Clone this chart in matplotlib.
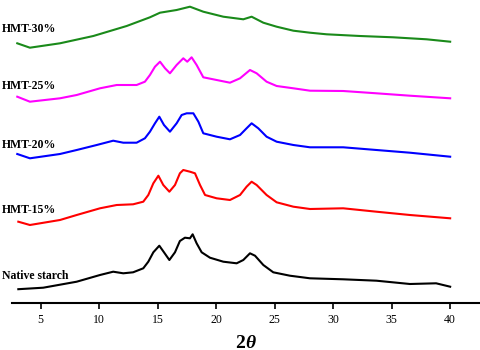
import matplotlib
matplotlib.use("Agg")
import matplotlib.pyplot as plt

# 2theta positions and intensities (arbitrary units, stacked)
x_native = [3.09, 5.22, 8.08, 10.07, 11.2, 12.06, 12.9, 13.77, 14.2, 14.63, 15.14, 15.54, 16.0, 16.48,
            16.9, 17.33, 17.76, 17.99, 18.33, 18.76, 19.47, 20.61, 21.75, 22.32, 22.89, 23.32, 24.03,
            24.88, 26.3, 28.02, 30.86, 33.7, 36.56, 38.8, 40.0]
y_native = [13.5, 15.0, 21.0, 27.7, 31.0, 29.4, 30.4, 34.4, 41.0, 50.4, 57.0, 50.4, 42.7, 50.4,
            61.7, 65.0, 64.4, 68.4, 59.4, 50.4, 45.0, 41.0, 39.4, 42.7, 49.4, 47.0, 37.7,
            30.4, 27.0, 24.4, 23.4, 22.0, 18.7, 19.4, 16.0]

x_15 = [3.09, 4.08, 6.65, 8.08, 10.07, 11.5, 12.9, 13.77, 14.2, 14.63, 15.06, 15.48, 16.0, 16.48, 16.9,
        17.19, 17.76, 18.19, 18.62, 19.05, 20.04, 21.18, 22.04, 22.6, 23.03, 23.46, 24.31, 25.17, 26.6,
        28.02, 30.86, 33.7, 36.56, 40.0]
y_15 = [81.0, 77.7, 82.7, 87.7, 94.4, 97.7, 98.4, 101.0, 107.7, 119.4, 127.0, 117.7, 111.0, 117.7, 129.4,
        132.7, 131.0, 129.4, 117.7, 107.7, 104.4, 102.7, 107.7, 116.0, 121.0, 117.7, 107.7, 100.4, 96.0,
        93.7, 94.4, 91.0, 87.7, 84.4]

x_20 = [3.0, 4.08, 6.65, 8.08, 9.79, 11.2, 12.06, 13.2, 13.91, 14.34, 14.77, 15.14, 15.54, 16.05, 16.62,
        17.05, 17.48, 18.05, 18.48, 18.9, 20.04, 21.18, 22.04, 22.6, 23.03, 23.6, 24.31, 25.17, 26.6,
        28.02, 30.86, 33.7, 36.56, 40.0]
y_20 = [148.7, 144.4, 148.7, 152.7, 157.7, 162.0, 160.0, 160.0, 164.4, 171.0, 179.4, 186.0, 177.7, 171.0, 179.4,
        187.7, 189.4, 189.4, 181.0, 169.4, 166.0, 163.4, 167.7, 174.4, 179.4, 174.4, 166.0, 161.0, 157.7,
        155.4, 155.4, 152.7, 150.0, 146.0]

x_25 = [3.0, 4.08, 6.65, 8.08, 10.07, 11.5, 13.2, 13.91, 14.34, 14.77, 15.2, 15.63, 16.05, 16.62, 17.19,
        17.53, 17.9, 18.33, 18.9, 20.04, 21.18, 22.04, 22.89, 23.46, 24.31, 25.17, 26.6, 28.02,
        30.86, 33.7, 36.56, 40.0]
y_25 = [206.0, 201.0, 204.4, 207.7, 214.4, 217.7, 217.7, 221.0, 227.7, 236.0, 241.0, 234.4, 229.4, 237.7, 244.4,
        241.0, 245.4, 237.7, 225.4, 222.7, 220.0, 224.4, 232.7, 229.4, 221.0, 216.7, 214.4, 212.0,
        211.7, 209.4, 207.0, 204.4]

x_30 = [3.0, 4.08, 6.65, 9.5, 12.35, 14.34, 15.2, 16.62, 17.76, 18.9, 20.61, 22.32, 23.03, 24.03, 25.17,
        26.6, 28.02, 29.44, 32.29, 35.13, 37.99, 40.0]
y_30 = [259.4, 255.0, 259.4, 266.7, 276.7, 285.4, 290.0, 292.7, 296.0, 291.0, 286.0, 283.4, 286.0, 280.0, 276.0,
        272.0, 270.0, 268.4, 266.7, 265.4, 263.4, 261.0]

labels = ["Native starch", "HMT-15%", "HMT-20%", "HMT-25%", "HMT-30%"]
label_heights = [26.7, 92.7, 157.7, 216.7, 273.7]
colors = ["black", "#ff0000", "#0000ff", "#ff00ff", "#1a8a1a"]
xticks = [5, 10, 15, 20, 25, 30, 35, 40]

fig = plt.figure(figsize=(4.8, 3.5), dpi=100)
ax = fig.add_axes([12 / 480, 47.3 / 350, 1 - 12 / 480, 1 - 47.3 / 350])

series = [(x_native, y_native), (x_15, y_15), (x_20, y_20), (x_25, y_25), (x_30, y_30)]
for (xs, ys), c in zip(series, colors):
    ax.plot(xs, ys, color=c, lw=1.5, solid_joinstyle="round")

for lab, h in zip(labels, label_heights):
    ax.text(1.69, h, lab, family="Liberation Serif", fontweight="bold", fontsize=8.5,
            va="center", ha="left", clip_on=False)

ax.set_xlim(2.55, 42.55)
ax.set_ylim(0, 302.7)
for s in ["top", "right", "left"]:
    ax.spines[s].set_visible(False)
ax.spines["bottom"].set_linewidth(1.5)
ax.set_yticks([])
ax.set_xticks(xticks)
ax.tick_params(axis="x", direction="out", length=4, width=1.2, pad=4, labelsize=8.5)
for t in ax.get_xticklabels():
    t.set_family("Liberation Serif")

fig.text(245 / 480, 1 - 343 / 350, "2", family="Liberation Serif", fontweight="bold",
         fontsize=14, ha="right", va="center")
fig.text(245 / 480, 1 - 343 / 350, "θ", family="Liberation Serif", fontweight="bold",
         style="italic", fontsize=14, ha="left", va="center")

fig.savefig("out.png", dpi=100)
